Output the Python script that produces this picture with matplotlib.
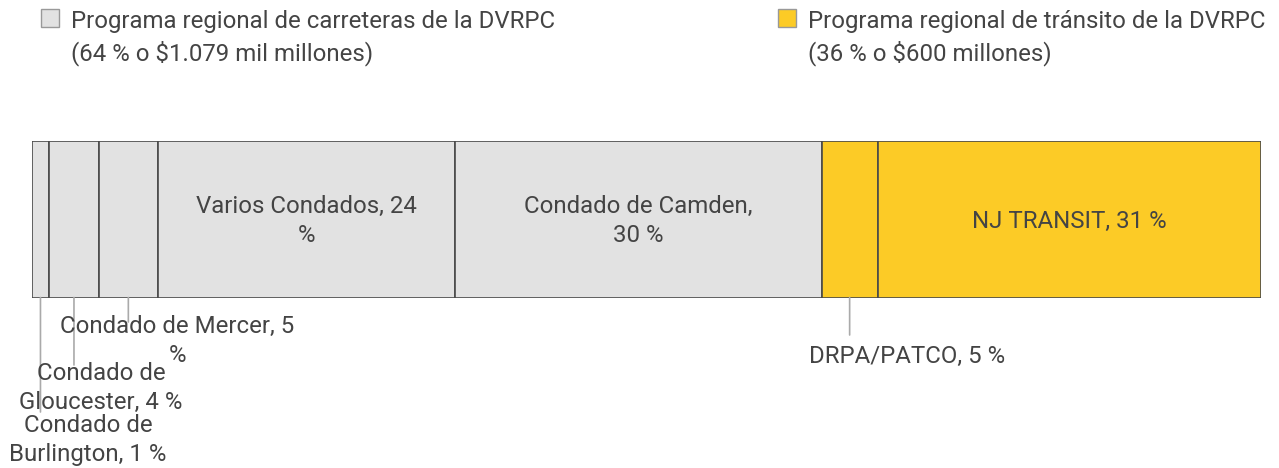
import matplotlib
matplotlib.use("Agg")
import matplotlib.pyplot as plt
from matplotlib.patches import Rectangle

# Data (millions of dollars)
road_names = ["Condado de\nBurlington, 1 %", "Condado de\nGloucester, 4 %",
              "Condado de Mercer, 5\n%", "Varios Condados, 24\n%", "Condado de Camden,\n30 %"]
road_values = [24.5, 67.0, 81.5, 405.0, 501.0]
transit_names = ["DRPA/PATCO, 5 %", "NJ TRANSIT, 31 %"]
transit_values = [76.5, 523.5]
legend_labels = ["Programa regional de carreteras de la DVRPC\n(64 % o $1.079 mil millones)",
                 "Programa regional de tránsito de la DVRPC\n(36 % o $600 millones)"]

GRAY = "#e2e2e2"
YELLOW = "#fccb26"
EDGE = "#4a4a4a"
TXT = "#444444"
LEAD = "#aaaaaa"

plt.rcParams['font.family'] = ['Roboto', 'DejaVu Sans']

W, H = 1279, 468
fig = plt.figure(figsize=(W / 100, H / 100), dpi=100)

left, right, top, bottom = 31.5, 1261, 141, 297.5
ax = fig.add_axes([left / W, 1 - bottom / H, (right - left) / W, (bottom - top) / H])
total = sum(road_values) + sum(transit_values)
ax.set_xlim(0, total)
ax.set_ylim(0, 1)
ax.axis("off")

names = road_names + transit_names
values = road_values + transit_values
colors = [GRAY] * len(road_values) + [YELLOW] * len(transit_values)
starts = []
acc = 0
for v in values:
    starts.append(acc)
    acc += v
ax.barh([0.5] * len(values), values, left=starts, height=1.0, color=colors,
        edgecolor=EDGE, linewidth=1.2)

fs = 17.3
fs_leg = 17.3
ls = 1.34

def fp(x, y):
    return (x / W, 1 - y / H)

# inside labels
for i in (3, 4, 6):
    mid = starts[i] + values[i] / 2
    ax.text(mid, 1 - (221 - top) / (bottom - top), names[i], ha="center", va="center",
            fontsize=fs, color=TXT, linespacing=ls)

# outside labels with leader lines: (index, line end y px, text center x px, text center y px)
outside = [(0, 412, 88, 440), (1, 365, 101, 388), (2, 322, 177, 341), (5, 335, 907, 356)]
for i, yend, tx, ty in outside:
    mid = starts[i] + values[i] / 2
    ax.annotate("", xy=(mid, 0), xycoords="data",
                xytext=(mid, 1 - (yend - top) / (bottom - top)), textcoords="data",
                arrowprops=dict(arrowstyle="-", color=LEAD, lw=1.2, shrinkA=0, shrinkB=0),
                annotation_clip=False)
    fig.text(*fp(tx, ty), names[i], ha="center", va="center", fontsize=fs, color=TXT,
             linespacing=ls)

# legend
for (sx, sy), col, lab in [((41, 9), GRAY, legend_labels[0]), ((778, 9), YELLOW, legend_labels[1])]:
    fig.patches.append(Rectangle(fp(sx, sy + 18), 18 / W, 18 / H, transform=fig.transFigure,
                                 facecolor=col, edgecolor="#999999", lw=1.0))
    fig.text(*fp(sx + 30, 38), lab, ha="left", va="center", fontsize=fs_leg, color=TXT,
             linespacing=ls)

fig.savefig("out.png", dpi=100)
